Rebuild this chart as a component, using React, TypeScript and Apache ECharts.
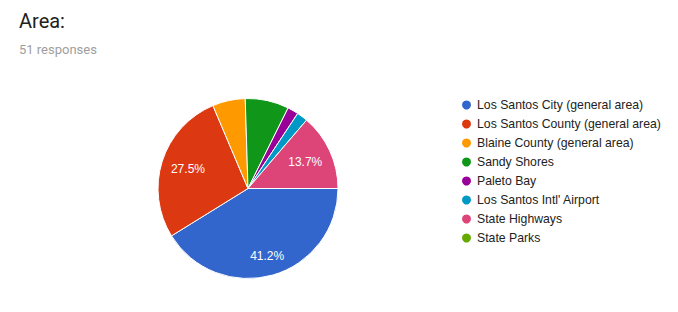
import React, { useEffect, useRef } from "react";
import * as echarts from "echarts";

const titleText = "Area:";
const subText = "51 responses";
const categories = [
  "Los Santos City (general area)",
  "Los Santos County (general area)",
  "Blaine County (general area)",
  "Sandy Shores",
  "Paleto Bay",
  "Los Santos Intl' Airport",
  "State Highways",
  "State Parks",
];
const counts = [21, 14, 3, 4, 1, 1, 7, 0];
const colors = ["#3366cc", "#dc3912", "#ff9900", "#109618", "#990099", "#0099c6", "#dd4477", "#66aa00"];
const labeledFar = ["Los Santos City (general area)"];
const labeledNear = ["Los Santos County (general area)", "State Highways"];

const LABEL_FONT = "Arial, 'Liberation Sans', sans-serif";

export default function App() {
  const ref = useRef<HTMLDivElement>(null);
  useEffect(() => {
    if (!ref.current) return;
    const chart = echarts.init(ref.current, undefined, { renderer: "svg" });
    const total = counts.reduce((a, b) => a + b, 0);
    const data = categories.map((name, i) => ({
      name,
      value: counts[i],
      itemStyle: { color: colors[i] },
    }));
    const labelSeries = (names: string[], inner: number) => ({
      type: "pie",
      center: [248, 188.5],
      radius: [inner, 90],
      startAngle: 0,
      clockwise: true,
      silent: true,
      legendHoverLink: false,
      itemStyle: { color: "transparent", borderWidth: 0 },
      emphasis: { disabled: true },
      labelLine: { show: false },
      label: {
        show: true,
        position: "inside",
        color: "#ffffff",
        fontSize: 12,
        fontFamily: LABEL_FONT,
        formatter: (p: any) =>
          names.indexOf(p.name) >= 0 ? (Math.round((p.value / total) * 1000) / 10).toFixed(1) + "%" : "",
      },
      data: categories.map((name, i) => ({ name, value: counts[i] })),
    });
    chart.setOption({
      animation: false,
      title: [
        {
          text: titleText,
          left: 19,
          top: 11,
          padding: 0,
          textStyle: { fontFamily: "Roboto, sans-serif", fontSize: 20, fontWeight: "normal", color: "#212121" },
        },
        {
          text: subText,
          left: 19,
          top: 43,
          padding: 0,
          textStyle: { fontFamily: "Roboto, sans-serif", fontSize: 13, fontWeight: "normal", color: "#9e9e9e" },
        },
      ],
      legend: {
        orient: "vertical",
        left: 460,
        top: 95.5,
        padding: 0,
        icon: "circle",
        itemWidth: 11,
        itemHeight: 11,
        itemGap: 0,
        selectedMode: false,
        data: categories,
        textStyle: { fontFamily: LABEL_FONT, fontSize: 12.25, color: "#222222", lineHeight: 19 },
      },
      series: [
        {
          type: "pie",
          center: [248, 188.5],
          radius: [0, 90],
          startAngle: 0,
          clockwise: true,
          silent: true,
          itemStyle: { borderColor: "#ffffff", borderWidth: 1 },
          label: { show: false },
          labelLine: { show: false },
          emphasis: { disabled: true },
          data,
        },
        labelSeries(labeledFar, 44),
        labelSeries(labeledNear, 30),
      ],
    });
    return () => chart.dispose();
  }, []);
  return <div ref={ref} style={{ position: "absolute", left: 0, top: 0, width: 678, height: 312 }} />;
}
